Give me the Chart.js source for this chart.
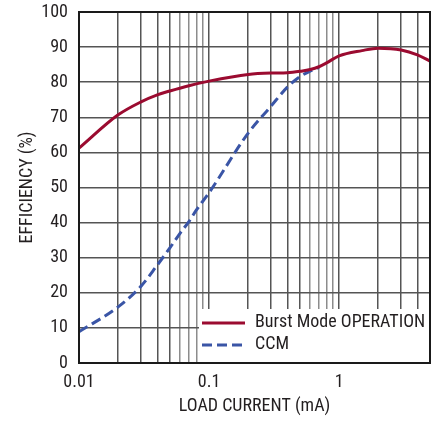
<!DOCTYPE html>
<html>
<head>
<meta charset="utf-8">
<script src="https://cdn.jsdelivr.net/npm/chart.js@4"></script>
<style>
  html, body { margin: 0; padding: 0; background: #fff; }
  #wrap { width: 436px; height: 421px; }
</style>
</head>
<body>
<div id="wrap"><canvas id="grafico"></canvas></div>
<script>
const loadCurrent = [0.01, 0.02, 0.03, 0.04, 0.05, 0.07, 0.1, 0.2, 0.3, 0.4, 0.5, 0.6, 0.7, 0.8, 1, 1.5, 2, 3, 4, 5];
const burstMode   = [61.2, 70.7, 74.4, 76.4, 77.5, 79.0, 80.3, 82.2, 82.6, 82.7, 83.1, 83.6, 84.4, 85.5, 87.5, 89.0, 89.7, 89.2, 87.8, 86.0];

const ccmCurrent = [0.01, 0.02, 0.03, 0.04, 0.05, 0.06, 0.07, 0.08, 0.1, 0.2, 0.3, 0.4, 0.5, 0.6, 0.7];
const ccm        = [8.9, 16.0, 21.9, 27.9, 32.8, 37.0, 40.3, 43.6, 48.5, 65.5, 73.2, 78.6, 81.6, 83.2, 84.2];

const xGrid = [0.01, 0.02, 0.03, 0.04, 0.05, 0.06, 0.07, 0.08, 0.09,
               0.1, 0.2, 0.3, 0.4, 0.5, 0.6, 0.7, 0.8, 0.9,
               1, 2, 3, 4, 5];
const xTickLabels = [0.01, 0.1, 1];
const yTicks = [0, 10, 20, 30, 40, 50, 60, 70, 80, 90, 100];

const rojo = "#9b0b30";
const azul = "#3a55a6";
const fuente = "'Roboto Condensed', 'Liberation Sans', sans-serif";
const texto = "#231f20";

function puntos(xs, ys) {
  return xs.map((x, i) => ({ x: x, y: ys[i] }));
}

const marco = {
  id: "marco",
  afterDatasetsDraw(chart) {
    const a = chart.chartArea;
    const c = chart.ctx;
    c.save();
    // leyenda
    const lx = 199, ly = 309;
    c.fillStyle = "#fff";
    c.fillRect(lx, ly, a.right - lx, a.bottom - ly);
    c.lineWidth = 3;
    c.strokeStyle = rojo;
    c.beginPath(); c.moveTo(202, 323); c.lineTo(245, 323); c.stroke();
    c.strokeStyle = azul;
    c.setLineDash([10, 5]);
    c.beginPath(); c.moveTo(202, 345); c.lineTo(245, 345); c.stroke();
    c.setLineDash([]);
    c.fillStyle = texto;
    c.font = "18px " + fuente;
    c.textBaseline = "middle";
    c.fillText("Burst Mode OPERATION", 255, 322);
    c.fillText("CCM", 255, 344);
    // borde
    c.strokeStyle = "#1a1a1a";
    c.lineWidth = 2;
    c.strokeRect(a.left, a.top, a.right - a.left, a.bottom - a.top);
    c.restore();
  }
};

new Chart(document.getElementById("grafico"), {
  type: "line",
  data: {
    datasets: [
      {
        label: "Burst Mode OPERATION",
        data: puntos(loadCurrent, burstMode),
        borderColor: rojo,
        borderWidth: 3,
        pointRadius: 0,
        cubicInterpolationMode: "monotone"
      },
      {
        label: "CCM",
        data: puntos(ccmCurrent, ccm),
        borderColor: azul,
        borderWidth: 3,
        borderDash: [10, 5],
        pointRadius: 0,
        cubicInterpolationMode: "monotone"
      }
    ]
  },
  options: {
    responsive: true,
    maintainAspectRatio: false,
    animation: false,
    layout: { padding: { left: 0, top: 12, right: 6, bottom: 0 } },
    plugins: {
      legend: { display: false },
      tooltip: { enabled: false }
    },
    scales: {
      x: {
        type: "logarithmic",
        min: 0.01,
        max: 5,
        afterBuildTicks: s => { s.ticks = xGrid.map(v => ({ value: v })); },
        afterFit: s => { s.height = 58; s.paddingLeft = 0; s.paddingRight = 0; },
        ticks: {
          autoSkip: false,
          maxRotation: 0,
          padding: 9,
          color: texto,
          font: { family: fuente, size: 18 },
          callback: v => xTickLabels.includes(v) ? String(v) : ""
        },
        grid: {
          drawTicks: false,
          lineWidth: 1.5,
          color: c => {
            const v = c.tick ? c.tick.value : 0;
            const m = Math.round(v / Math.pow(10, Math.floor(Math.log10(v) + 1e-9)));
            return m >= 6 ? "#8c8c8c" : "#555";
          }
        },
        border: { display: false },
        title: {
          display: true,
          text: "LOAD CURRENT (mA)",
          color: texto,
          font: { family: fuente, size: 18 },
          padding: { top: 4 }
        }
      },
      y: {
        min: 0,
        max: 100,
        afterBuildTicks: s => { s.ticks = yTicks.map(v => ({ value: v })); },
        afterFit: s => { s.width = 79; s.paddingTop = 0; s.paddingBottom = 0; },
        ticks: {
          padding: 11,
          color: texto,
          font: { family: fuente, size: 18 }
        },
        grid: {
          drawTicks: false,
          lineWidth: 1.5,
          color: "#555"
        },
        border: { display: false },
        title: {
          display: true,
          text: "EFFICIENCY (%)",
          color: texto,
          font: { family: fuente, size: 18 },
          padding: { bottom: 4, top: 17 }
        }
      }
    }
  },
  plugins: [marco]
});
</script>
</body>
</html>
